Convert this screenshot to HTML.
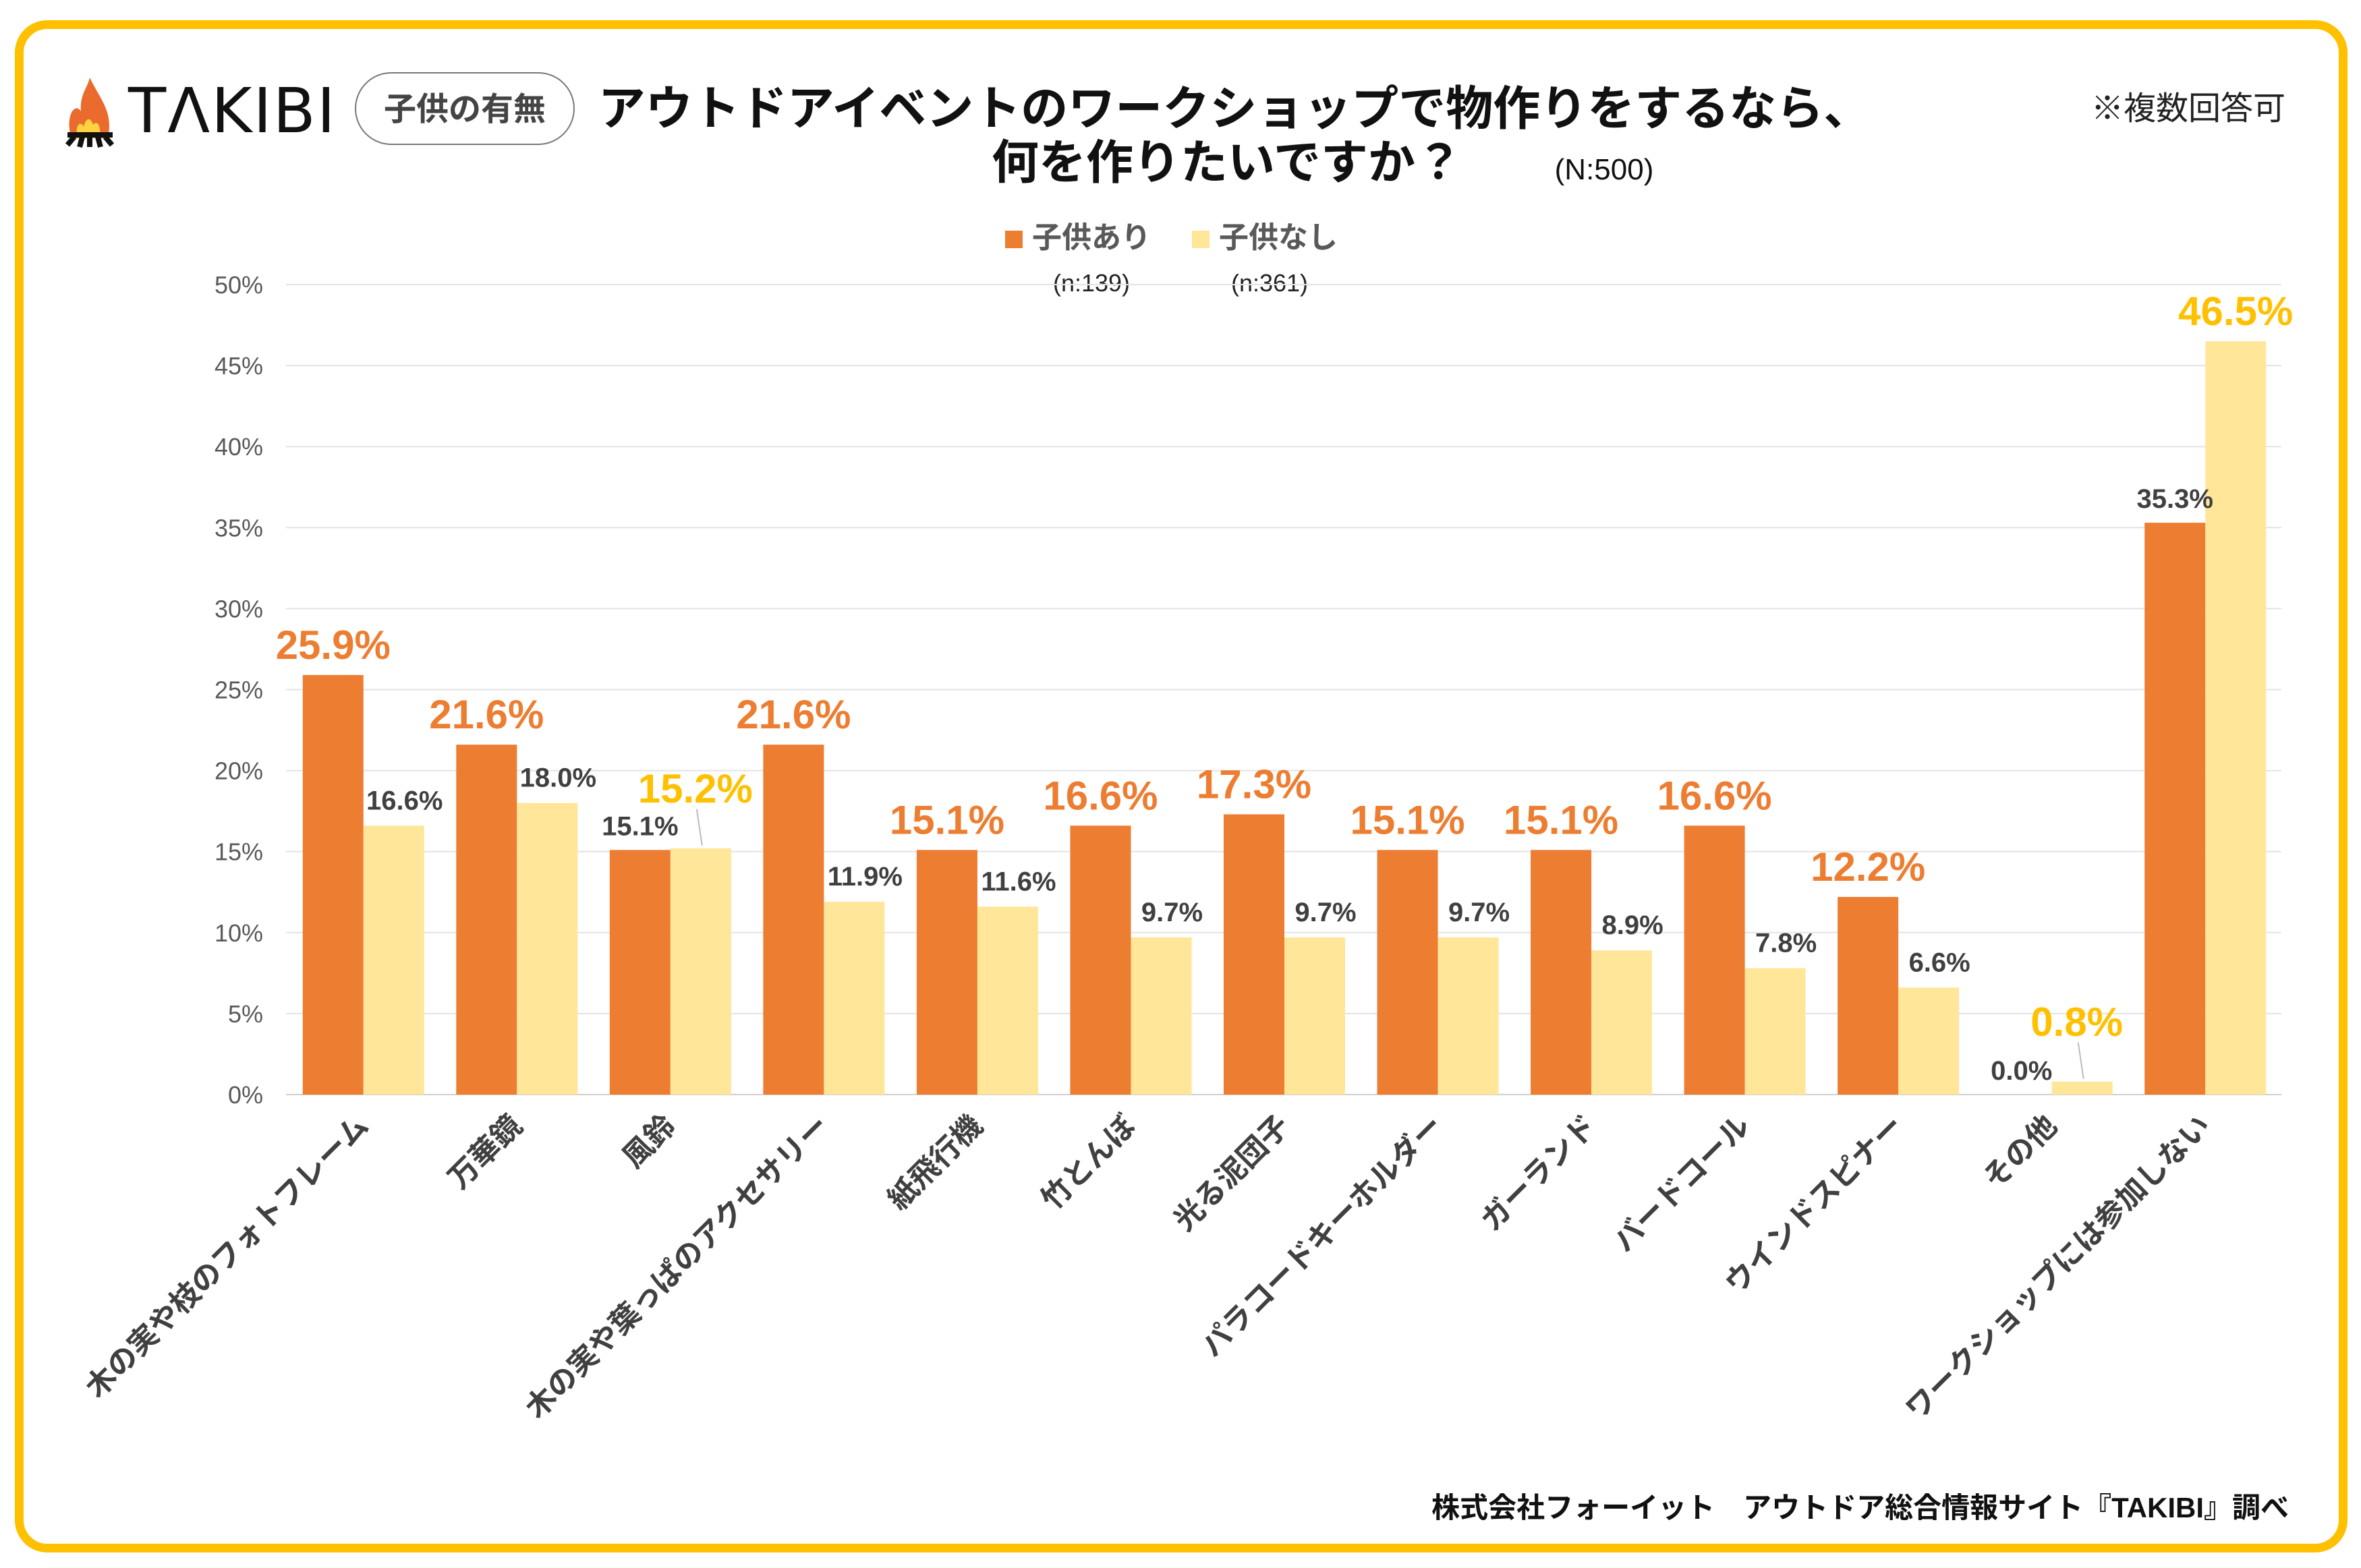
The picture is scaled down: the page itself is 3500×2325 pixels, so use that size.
<!DOCTYPE html>
<html><head><meta charset="utf-8">
<style>
html,body{margin:0;padding:0;background:#fff;}
body{width:3500px;height:2325px;position:relative;overflow:hidden;font-family:"Liberation Sans","Noto Sans CJK JP",sans-serif;}
#frame{position:absolute;left:22px;top:30px;width:3432px;height:2246px;border:13px solid #FFC000;border-radius:48px;}
svg{position:absolute;left:0;top:0;}
</style></head>
<body>
<div id="frame"></div>
<svg id="chart" width="3500" height="2325" viewBox="0 0 3500 2325">
  <g>
    <path d="M133 115 C150 150 168 165 160 205 L106 205 C96 175 110 150 120 165 C118 140 130 130 133 115 Z" fill="#EB6A2E"/>
    <path d="M115 205 C110 185 120 178 124 188 C128 172 135 175 138 185 C144 178 150 185 148 205 Z" fill="#FFD23F"/>
    <path d="M100 200 L167 200 M110 203 L100 215 M133 203 L133 218 M156 203 L166 215 M122 203 L118 218 M145 203 L149 218" stroke="#111" stroke-width="8" fill="none"/>
    <text x="190" y="196" font-size="92" font-family="DejaVu Sans, Liberation Sans, sans-serif" fill="#111" letter-spacing="2">TΛKIBI</text>
  </g>
  <rect x="527" y="108" width="324" height="106" rx="53" fill="#fff" stroke="#777" stroke-width="2"/>
  <text x="689" y="178" text-anchor="middle" font-size="48" font-weight="bold" fill="#444">子供の有無</text>
  <text x="1830" y="185" text-anchor="middle" font-size="70" font-weight="bold" fill="#111">アウトドアイベントのワークショップで物作りをするなら、</text>
  <text x="1819" y="265" text-anchor="middle" font-size="70" font-weight="bold" fill="#111">何を作りたいですか？</text>
  <text x="2378" y="266" text-anchor="middle" font-size="44" fill="#111">(N:500)</text>
  <text x="3388" y="177" text-anchor="end" font-size="48" fill="#222">※複数回答可</text>
  <g>
    <rect x="1490" y="342" width="26" height="26" fill="#ED7D31"/>
    <text x="1530" y="367" font-size="44" font-weight="bold" fill="#595959">子供あり</text>
    <text x="1618" y="432" text-anchor="middle" font-size="36" fill="#222">(n:139)</text>
    <rect x="1767" y="342" width="26" height="26" fill="#FFE699"/>
    <text x="1807" y="367" font-size="44" font-weight="bold" fill="#595959">子供なし</text>
    <text x="1882" y="432" text-anchor="middle" font-size="36" fill="#222">(n:361)</text>
  </g>
  <g id="grid"></g>
  <g id="bars"></g>
  <g id="labels"></g>
  <g id="xlabels"></g>
  <text x="3393" y="2250" text-anchor="end" font-size="42" font-weight="bold" fill="#111">株式会社フォーイット　アウトドア総合情報サイト『TAKIBI』調べ</text>
</svg>
<script>
const categories = ["木の実や枝のフォトフレーム","万華鏡","風鈴","木の実や葉っぱのアクセサリー","紙飛行機","竹とんぼ","光る泥団子","パラコードキーホルダー","ガーランド","バードコール","ウインドスピナー","その他","ワークショップには参加しない"];
const withChildren = [25.9,21.6,15.1,21.6,15.1,16.6,17.3,15.1,15.1,16.6,12.2,0.0,35.3];
const withoutChildren = [16.6,18.0,15.2,11.9,11.6,9.7,9.7,9.7,8.9,7.8,6.6,0.8,46.5];
const yTicks = [0,5,10,15,20,25,30,35,40,45,50];

const NS = "http://www.w3.org/2000/svg";
const plotL = 424, plotR = 3382, y0 = 1623, y50 = 422, yMax = 50;
const groupW = (plotR - plotL) / categories.length;
const barW = 90;
function yScale(v){ return y0 - (v / yMax) * (y0 - y50); }
function xCenter(i){ return plotL + groupW * i + groupW / 2 + 1; }
function mk(tag, attrs, parent){ const e = document.createElementNS(NS, tag); for (const k in attrs) e.setAttribute(k, attrs[k]); parent.appendChild(e); return e; }

const grid = document.getElementById('grid');
yTicks.forEach(t => {
  const y = yScale(t);
  const l = mk('line', {x1: plotL, x2: plotR, y1: y, y2: y, stroke: t === 0 ? '#d0d0d0' : '#e3e3e3', 'stroke-width': 2}, grid);
  
  
  const tx = mk('text', {x: 390, y: y + 13, 'text-anchor': 'end', 'font-size': 36, fill: '#595959'}, grid);
  tx.textContent = t + '%';
  
  
});

const bars = document.getElementById('bars');
const labels = document.getElementById('labels');
const xl = document.getElementById('xlabels');
categories.forEach((c, i) => {
  const cx = xCenter(i);
  const a = withChildren[i], b = withoutChildren[i];
  const r1 = mk('rect', {x: cx - barW, y: yScale(a), width: barW, height: y0 - yScale(a), fill: '#ED7D31'}, bars);
  
  
  const r2 = mk('rect', {x: cx, y: yScale(b), width: barW, height: y0 - yScale(b), fill: '#FFE699'}, bars);
  
  

  const aBig = a >= b;
  const la = mk('text', {x: cx - barW / 2, y: yScale(a) - (aBig ? 24 : 22), 'text-anchor': 'middle',
    'font-size': aBig ? 60 : 40, 'font-weight': 'bold', fill: aBig ? '#ED7D31' : '#404040'}, labels);
  la.textContent = a.toFixed(1) + '%';
  
  
  let bx = cx + barW / 2 + (aBig ? 16 : 0), by = yScale(b) - (aBig ? 24 : 24);
  if (!aBig && Math.abs(a - b) < 2) {
    bx = cx + barW / 2 - 8; by = yScale(b) - 68;
    const ld = mk('line', {x1: cx + barW / 2 + 2, y1: yScale(b) - 4, x2: cx + barW / 2 - 6, y2: by + 10, stroke: '#bbb', 'stroke-width': 2}, labels);
    
    
  }
  const lb = mk('text', {x: bx, y: by, 'text-anchor': 'middle',
    'font-size': aBig ? 40 : 60, 'font-weight': 'bold', fill: aBig ? '#404040' : '#FFC000'}, labels);
  lb.textContent = b.toFixed(1) + '%';
  
  

  const t = mk('text', {x: 0, y: 0, 'text-anchor': 'end', 'font-size': 44, 'font-weight': 'bold', fill: '#404040',
    transform: 'translate(' + (cx + 10) + ',1672) rotate(-45)'}, xl);
  t.textContent = c;
  
  
});
</script>
</body></html>
